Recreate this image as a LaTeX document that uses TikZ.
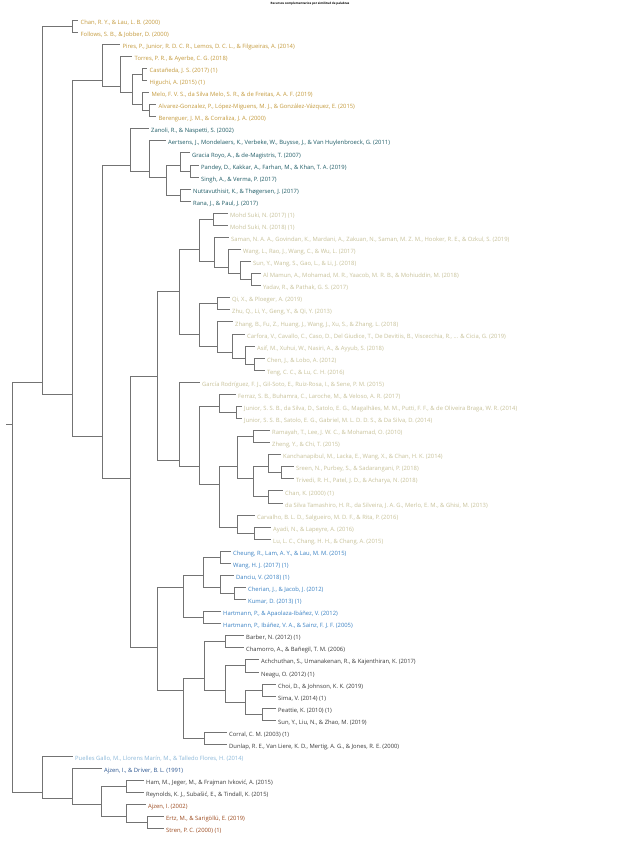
\documentclass[tikz,border=0pt]{standalone}
\usepackage{fontspec}
\setmainfont{Open Sans}
\usepackage{tikz}

\definecolor{gold}{HTML}{C49A3C}
\definecolor{teal}{HTML}{1F5C66}
\definecolor{khaki}{HTML}{C8C29A}
\definecolor{midblue}{HTML}{3B82C4}
\definecolor{darkgray}{HTML}{3A3A3A}
\definecolor{paleblue}{HTML}{8DB9DA}
\definecolor{navy}{HTML}{2B5590}
\definecolor{rust}{HTML}{9C4A1E}

\tikzset{
  branch/.style={draw=black!55, line width=0.6pt},
  leaf/.style={anchor=west, inner xsep=2.5pt, inner ysep=0pt, text height=8.5pt, text depth=0pt, font=\fontsize{5.85}{7}\selectfont},
}

\begin{document}
\begin{tikzpicture}[x=1pt, y=-12.07pt]

	\useasboundingbox (0,-0.657) rectangle (619,69.1);
	\fill[white] (0,-0.657) rectangle (619,69.1);

	\node[font=\bfseries\fontsize{3}{3.5}\selectfont] (title) at (310,-0.33) {Recursos complementarios por similitud de palabras};

	% cluster points (x in px, y in leaf rows)
	\coordinate (stub) at (6, 34.5);
	\coordinate (a) at (12, 34.5);
	\coordinate (b) at (42, 31);
	\coordinate (b1) at (72, 1.5);
	\coordinate (b2) at (72, 32);
	\coordinate (b2a) at (102, 6);
	\coordinate (d) at (120, 6.5);
	\coordinate (e) at (132, 7);
	\coordinate (e1) at (142, 5.5);
	\coordinate (f) at (142, 8);
	\coordinate (f1) at (149, 8.5);
	\coordinate (b2b) at (102, 35.5);
	\coordinate (g) at (130, 13);
	\coordinate (h) at (149, 13.5);
	\coordinate (i) at (166, 14);
	\coordinate (j) at (180, 13);
	\coordinate (l) at (190, 13.5);
	\coordinate (k) at (180, 15.5);
	\coordinate (m) at (130, 39);
	\coordinate (n) at (157, 30.5);
	\coordinate (p) at (179, 23.5);
	\coordinate (r) at (199, 20);
	\coordinate (r1) at (213, 17.5);
	\coordinate (t) at (214, 21);
	\coordinate (u) at (228, 21.5);
	\coordinate (v) at (240, 22);
	\coordinate (w) at (251, 22.5);
	\coordinate (s) at (199, 27);
	\coordinate (s1) at (217, 24.5);
	\coordinate (x) at (217, 28);
	\coordinate (y) at (232, 28.5);
	\coordinate (z) at (245, 29);
	\coordinate (aa) at (254, 29.5);
	\coordinate (q) at (179, 37.5);
	\coordinate (ab) at (199, 38);
	\coordinate (ac) at (219, 33);
	\coordinate (ac1) at (236, 33.5);
	\coordinate (ad) at (219, 39.5);
	\coordinate (ae) at (237, 38);
	\coordinate (ae1) at (253, 35.5);
	\coordinate (ag) at (253, 39);
	\coordinate (ah) at (268, 38);
	\coordinate (ah1) at (281, 38.5);
	\coordinate (ai) at (268, 40.5);
	\coordinate (af) at (237, 43);
	\coordinate (af1) at (254, 43.5);
	\coordinate (o) at (157, 53);
	\coordinate (aj) at (183, 48);
	\coordinate (al) at (203, 47);
	\coordinate (al1) at (220, 45.5);
	\coordinate (an) at (220, 48);
	\coordinate (an1) at (234, 48.5);
	\coordinate (am) at (203, 50.5);
	\coordinate (ak) at (183, 56.5);
	\coordinate (ao) at (204, 55.5);
	\coordinate (ao1) at (225, 52.5);
	\coordinate (aq) at (225, 56.5);
	\coordinate (aq1) at (245, 54.5);
	\coordinate (ar) at (245, 57.5);
	\coordinate (ar1) at (262, 56.5);
	\coordinate (ar2) at (262, 58.5);
	\coordinate (ap) at (204, 60.5);
	\coordinate (c) at (42, 65);
	\coordinate (as) at (72, 65.5);
	\coordinate (at) at (101, 66);
	\coordinate (at1) at (126, 64.5);
	\coordinate (au) at (126, 67);
	\coordinate (au1) at (147, 67.5);

	% leaves
	\node[leaf, text=gold] (l1) at (78, 1) {Chan, R. Y., \& Lau, L. B. (2000)};
	\node[leaf, text=gold] (l2) at (78, 2) {Follows, S. B., \& Jobber, D. (2000)};
	\node[leaf, text=gold] (l3) at (120, 3) {Pires, P., Junior, R. D. C. R., Lemos, D. C. L., \& Filgueiras, A. (2014)};
	\node[leaf, text=gold] (l4) at (132, 4) {Torres, P. R., \& Ayerbe, C. G. (2018)};
	\node[leaf, text=gold] (l5) at (147, 5) {Castañeda, J. S. (2017) (1)};
	\node[leaf, text=gold] (l6) at (147, 6) {Higuchi, A. (2015) (1)};
	\node[leaf, text=gold] (l7) at (149, 7) {Melo, F. V. S., da Silva Melo, S. R., \& de Freitas, A. A. F. (2019)};
	\node[leaf, text=gold] (l8) at (156, 8) {Alvarez-Gonzalez, P., López-Miguens, M. J., \& González-Vázquez, E. (2015)};
	\node[leaf, text=gold] (l9) at (156, 9) {Berenguer, J. M., \& Corraliza, J. A. (2000)};
	\node[leaf, text=teal] (l10) at (148.5, 10) {Zanoli, R., \& Naspetti, S. (2002)};
	\node[leaf, text=teal] (l11) at (165.5, 11) {Aertsens, J., Mondelaers, K., Verbeke, W., Buysse, J., \& Van Huylenbroeck, G. (2011)};
	\node[leaf, text=teal] (l12) at (189.5, 12) {Gracia Royo, A., \& de-Magistris, T. (2007)};
	\node[leaf, text=teal] (l13) at (198.5, 13) {Pandey, D., Kakkar, A., Farhan, M., \& Khan, T. A. (2019)};
	\node[leaf, text=teal] (l14) at (198.5, 14) {Singh, A., \& Verma, P. (2017)};
	\node[leaf, text=teal] (l15) at (190.5, 15) {Nuttavuthisit, K., \& Thøgersen, J. (2017)};
	\node[leaf, text=teal] (l16) at (190.5, 16) {Rana, J., \& Paul, J. (2017)};
	\node[leaf, text=khaki] (l17) at (227.5, 17) {Mohd Suki, N. (2017) (1)};
	\node[leaf, text=khaki] (l18) at (227.5, 18) {Mohd Suki, N. (2018) (1)};
	\node[leaf, text=khaki] (l19) at (228.5, 19) {Saman, N. A. A., Govindan, K., Mardani, A., Zakuan, N., Saman, M. Z. M., Hooker, R. E., \& Ozkul, S. (2019)};
	\node[leaf, text=khaki] (l20) at (240.5, 20) {Wang, L., Rao, J., Wang, C., \& Wu, L. (2017)};
	\node[leaf, text=khaki] (l21) at (250.5, 21) {Sun, Y., Wang, S., Gao, L., \& Li, J. (2018)};
	\node[leaf, text=khaki] (l22) at (260.5, 22) {Al Mamun, A., Mohamad, M. R., Yaacob, M. R. B., \& Mohiuddin, M. (2018)};
	\node[leaf, text=khaki] (l23) at (260.5, 23) {Yadav, R., \& Pathak, G. S. (2017)};
	\node[leaf, text=khaki] (l24) at (229.5, 24) {Qi, X., \& Ploeger, A. (2019)};
	\node[leaf, text=khaki] (l25) at (229.5, 25) {Zhu, Q., Li, Y., Geng, Y., \& Qi, Y. (2013)};
	\node[leaf, text=khaki] (l26) at (232.5, 26) {Zhang, B., Fu, Z., Huang, J., Wang, J., Xu, S., \& Zhang, L. (2018)};
	\node[leaf, text=khaki] (l27) at (244.5, 27) {Carfora, V., Cavallo, C., Caso, D., Del Giudice, T., De Devitiis, B., Viscecchia, R., ... \& Cicia, G. (2019)};
	\node[leaf, text=khaki] (l28) at (254.5, 28) {Asif, M., Xuhui, W., Nasiri, A., \& Ayyub, S. (2018)};
	\node[leaf, text=khaki] (l29) at (264.5, 29) {Chen, J., \& Lobo, A. (2012)};
	\node[leaf, text=khaki] (l30) at (264.5, 30) {Teng, C. C., \& Lu, C. H. (2016)};
	\node[leaf, text=khaki] (l31) at (199.5, 31) {García Rodríguez, F. J., Gil-Soto, E., Ruiz-Rosa, I., \& Sene, P. M. (2015)};
	\node[leaf, text=khaki] (l32) at (235.5, 32) {Ferraz, S. B., Buhamra, C., Laroche, M., \& Veloso, A. R. (2017)};
	\node[leaf, text=khaki] (l33) at (241.5, 33) {Junior, S. S. B., da Silva, D., Satolo, E. G., Magalhães, M. M., Putti, F. F., \& de Oliveira Braga, W. R. (2014)};
	\node[leaf, text=khaki] (l34) at (241.5, 34) {Junior, S. S. B., Satolo, E. G., Gabriel, M. L. D. D. S., \& Da Silva, D. (2014)};
	\node[leaf, text=khaki] (l35) at (269.5, 35) {Ramayah, T., Lee, J. W. C., \& Mohamad, O. (2010)};
	\node[leaf, text=khaki] (l36) at (269.5, 36) {Zheng, Y., \& Chi, T. (2015)};
	\node[leaf, text=khaki] (l37) at (280.5, 37) {Kanchanapibul, M., Lacka, E., Wang, X., \& Chan, H. K. (2014)};
	\node[leaf, text=khaki] (l38) at (293.5, 38) {Sreen, N., Purbey, S., \& Sadarangani, P. (2018)};
	\node[leaf, text=khaki] (l39) at (293.5, 39) {Trivedi, R. H., Patel, J. D., \& Acharya, N. (2018)};
	\node[leaf, text=khaki] (l40) at (282.5, 40) {Chan, K. (2000) (1)};
	\node[leaf, text=khaki] (l41) at (282.5, 41) {da Silva Tamashiro, H. R., da Silveira, J. A. G., Merlo, E. M., \& Ghisi, M. (2013)};
	\node[leaf, text=khaki] (l42) at (254.5, 42) {Carvalho, B. L. D., Salgueiro, M. D. F., \& Rita, P. (2016)};
	\node[leaf, text=khaki] (l43) at (270.5, 43) {Ayadi, N., \& Lapeyre, A. (2016)};
	\node[leaf, text=khaki] (l44) at (270.5, 44) {Lu, L. C., Chang, H. H., \& Chang, A. (2015)};
	\node[leaf, text=midblue] (l45) at (230.5, 45) {Cheung, R., Lam, A. Y., \& Lau, M. M. (2015)};
	\node[leaf, text=midblue] (l46) at (230.5, 46) {Wang, H. J. (2017) (1)};
	\node[leaf, text=midblue] (l47) at (233.5, 47) {Danciu, V. (2018) (1)};
	\node[leaf, text=midblue] (l48) at (245.5, 48) {Cherian, J., \& Jacob, J. (2012)};
	\node[leaf, text=midblue] (l49) at (245.5, 49) {Kumar, D. (2013) (1)};
	\node[leaf, text=midblue] (l50) at (220.5, 50) {Hartmann, P., \& Apaolaza-Ibáñez, V. (2012)};
	\node[leaf, text=midblue] (l51) at (220.5, 51) {Hartmann, P., Ibáñez, V. A., \& Sainz, F. J. F. (2005)};
	\node[leaf, text=darkgray] (l52) at (243.5, 52) {Barber, N. (2012) (1)};
	\node[leaf, text=darkgray] (l53) at (243.5, 53) {Chamorro, A., \& Bañegil, T. M. (2006)};
	\node[leaf, text=darkgray] (l54) at (258.5, 54) {Achchuthan, S., Umanakenan, R., \& Kajenthiran, K. (2017)};
	\node[leaf, text=darkgray] (l55) at (258.5, 55) {Neagu, O. (2012) (1)};
	\node[leaf, text=darkgray] (l56) at (275.5, 56) {Choi, D., \& Johnson, K. K. (2019)};
	\node[leaf, text=darkgray] (l57) at (275.5, 57) {Sima, V. (2014) (1)};
	\node[leaf, text=darkgray] (l58) at (275.5, 58) {Peattie, K. (2010) (1)};
	\node[leaf, text=darkgray] (l59) at (275.5, 59) {Sun, Y., Liu, N., \& Zhao, M. (2019)};
	\node[leaf, text=darkgray] (l60) at (226.5, 60) {Corral, C. M. (2003) (1)};
	\node[leaf, text=darkgray] (l61) at (226.5, 61) {Dunlap, R. E., Van Liere, K. D., Mertig, A. G., \& Jones, R. E. (2000)};
	\node[leaf, text=paleblue] (l62) at (72.5, 62) {Puelles Gallo, M., Llorens Marín, M., \& Talledo Flores, H. (2014)};
	\node[leaf, text=navy] (l63) at (101.5, 63) {Ajzen, I., \& Driver, B. L. (1991)};
	\node[leaf, text=darkgray] (l64) at (143.5, 64) {Ham, M., Jeger, M., \& Frajman Ivković, A. (2015)};
	\node[leaf, text=darkgray] (l65) at (143.5, 65) {Reynolds, K. J., Subašić, E., \& Tindall, K. (2015)};
	\node[leaf, text=rust] (l66) at (145.5, 66) {Ajzen, I. (2002)};
	\node[leaf, text=rust] (l67) at (163.5, 67) {Ertz, M., \& Sarigöllü, E. (2019)};
	\node[leaf, text=rust] (l68) at (163.5, 68) {Stren, P. C. (2000) (1)};

	% branches
	\draw[branch] (stub) -- (a);
	\draw[branch] (a) |- (b) (a) |- (c);
	\draw[branch] (b) |- (b1) (b) |- (b2);
	\draw[branch] (b1) |- (l1.west) (b1) |- (l2.west);
	\draw[branch] (b2) |- (b2a) (b2) |- (b2b);
	\draw[branch] (b2a) |- (l3.west) (b2a) |- (d);
	\draw[branch] (d) |- (l4.west) (d) |- (e);
	\draw[branch] (e) |- (e1) (e) |- (f);
	\draw[branch] (e1) |- (l5.west) (e1) |- (l6.west);
	\draw[branch] (f) |- (l7.west) (f) |- (f1);
	\draw[branch] (f1) |- (l8.west) (f1) |- (l9.west);
	\draw[branch] (b2b) |- (g) (b2b) |- (m);
	\draw[branch] (g) |- (l10.west) (g) |- (h);
	\draw[branch] (h) |- (l11.west) (h) |- (i);
	\draw[branch] (i) |- (j) (i) |- (k);
	\draw[branch] (j) |- (l12.west) (j) |- (l);
	\draw[branch] (l) |- (l13.west) (l) |- (l14.west);
	\draw[branch] (k) |- (l15.west) (k) |- (l16.west);
	\draw[branch] (m) |- (n) (m) |- (o);
	\draw[branch] (n) |- (p) (n) |- (q);
	\draw[branch] (p) |- (r) (p) |- (s);
	\draw[branch] (r) |- (r1) (r) |- (t);
	\draw[branch] (r1) |- (l17.west) (r1) |- (l18.west);
	\draw[branch] (t) |- (l19.west) (t) |- (u);
	\draw[branch] (u) |- (l20.west) (u) |- (v);
	\draw[branch] (v) |- (l21.west) (v) |- (w);
	\draw[branch] (w) |- (l22.west) (w) |- (l23.west);
	\draw[branch] (s) |- (s1) (s) |- (x);
	\draw[branch] (s1) |- (l24.west) (s1) |- (l25.west);
	\draw[branch] (x) |- (l26.west) (x) |- (y);
	\draw[branch] (y) |- (l27.west) (y) |- (z);
	\draw[branch] (z) |- (l28.west) (z) |- (aa);
	\draw[branch] (aa) |- (l29.west) (aa) |- (l30.west);
	\draw[branch] (q) |- (l31.west) (q) |- (ab);
	\draw[branch] (ab) |- (ac) (ab) |- (ad);
	\draw[branch] (ac) |- (l32.west) (ac) |- (ac1);
	\draw[branch] (ac1) |- (l33.west) (ac1) |- (l34.west);
	\draw[branch] (ad) |- (ae) (ad) |- (af);
	\draw[branch] (ae) |- (ae1) (ae) |- (ag);
	\draw[branch] (ae1) |- (l35.west) (ae1) |- (l36.west);
	\draw[branch] (ag) |- (ah) (ag) |- (ai);
	\draw[branch] (ah) |- (l37.west) (ah) |- (ah1);
	\draw[branch] (ah1) |- (l38.west) (ah1) |- (l39.west);
	\draw[branch] (ai) |- (l40.west) (ai) |- (l41.west);
	\draw[branch] (af) |- (l42.west) (af) |- (af1);
	\draw[branch] (af1) |- (l43.west) (af1) |- (l44.west);
	\draw[branch] (o) |- (aj) (o) |- (ak);
	\draw[branch] (aj) |- (al) (aj) |- (am);
	\draw[branch] (al) |- (al1) (al) |- (an);
	\draw[branch] (al1) |- (l45.west) (al1) |- (l46.west);
	\draw[branch] (an) |- (l47.west) (an) |- (an1);
	\draw[branch] (an1) |- (l48.west) (an1) |- (l49.west);
	\draw[branch] (am) |- (l50.west) (am) |- (l51.west);
	\draw[branch] (ak) |- (ao) (ak) |- (ap);
	\draw[branch] (ao) |- (ao1) (ao) |- (aq);
	\draw[branch] (ao1) |- (l52.west) (ao1) |- (l53.west);
	\draw[branch] (aq) |- (aq1) (aq) |- (ar);
	\draw[branch] (aq1) |- (l54.west) (aq1) |- (l55.west);
	\draw[branch] (ar) |- (ar1) (ar) |- (ar2);
	\draw[branch] (ar1) |- (l56.west) (ar1) |- (l57.west);
	\draw[branch] (ar2) |- (l58.west) (ar2) |- (l59.west);
	\draw[branch] (ap) |- (l60.west) (ap) |- (l61.west);
	\draw[branch] (c) |- (l62.west) (c) |- (as);
	\draw[branch] (as) |- (l63.west) (as) |- (at);
	\draw[branch] (at) |- (at1) (at) |- (au);
	\draw[branch] (at1) |- (l64.west) (at1) |- (l65.west);
	\draw[branch] (au) |- (l66.west) (au) |- (au1);
	\draw[branch] (au1) |- (l67.west) (au1) |- (l68.west);

\end{tikzpicture}
\end{document}
